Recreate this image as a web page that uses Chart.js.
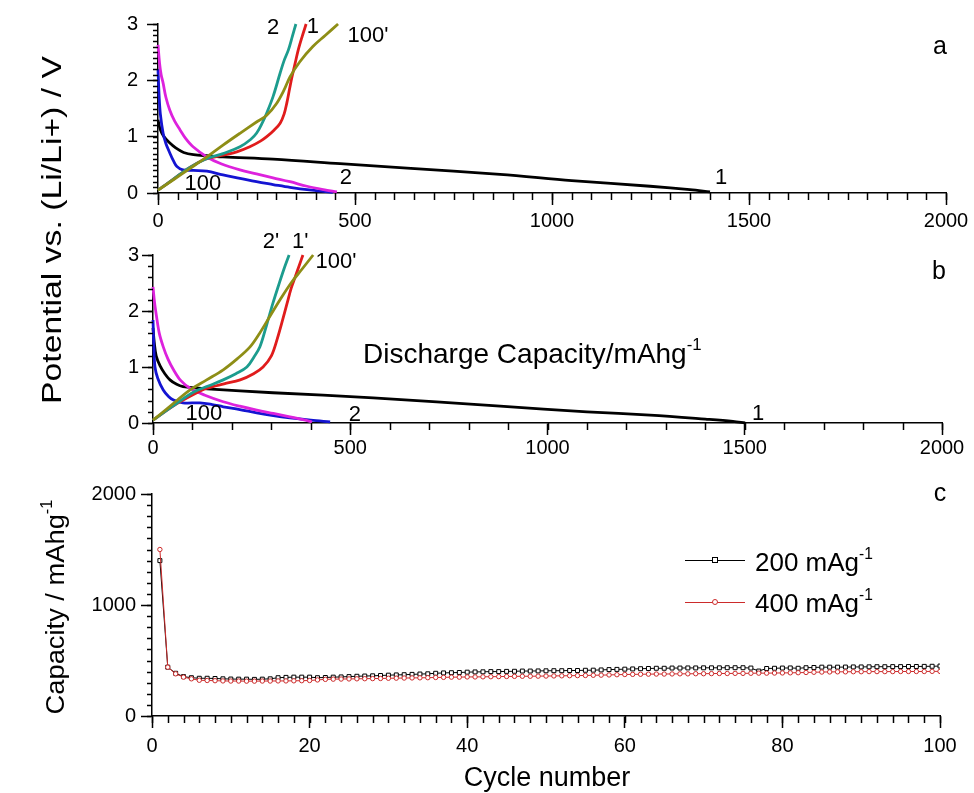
<!DOCTYPE html>
<html>
<head>
<meta charset="utf-8">
<script src="https://cdn.jsdelivr.net/npm/chart.js@4.4.0/dist/chart.umd.min.js"></script>
<style>
  body { margin: 0; background: #fff; }
  #fig { position: relative; width: 974px; height: 793px; overflow: hidden; background: #fff;
         font-family: "Liberation Sans", Arial, sans-serif; color: #000; }
  #fig canvas { position: absolute; left: 0; }
  .txt { position: absolute; white-space: nowrap; line-height: 1; }
  .txt sup { font-size: 60%; vertical-align: 0.75em; line-height: 0; }
  .mid { transform: translateY(-50%); }
  .ctr { transform: translate(-50%, -50%); }
  .legline { position: absolute; height: 0; width: 60px; }
  .legmark { position: absolute; width: 4px; height: 4px; background: #fff; }
</style>
</head>
<body>
<div id="fig">
  <canvas id="chartA" width="974" height="230" style="top:0px"></canvas>
  <canvas id="chartB" width="974" height="240" style="top:230px"></canvas>
  <canvas id="chartC" width="974" height="323" style="top:470px"></canvas>

  <div class="txt" style="left:52px; top:230px; font-size:27px; transform:translate(-50%,-50%) rotate(-90deg) scale(1.25,1);">Potential vs. (Li/Li+) / V</div>
  <div class="txt" style="left:55px; top:607px; font-size:26px; transform:translate(-50%,-50%) rotate(-90deg) scale(1.05,1);">Capacity / mAhg<sup>-1</sup></div>
  <div class="txt ctr" style="left:547px; top:777px; font-size:27px;">Cycle number</div>
  <div class="txt mid" style="left:363px; top:354px; font-size:28px;">Discharge Capacity/mAhg<sup>-1</sup></div>

  <div class="txt ctr" style="left:940px; top:45px; font-size:25px;">a</div>
  <div class="txt ctr" style="left:939px; top:270px; font-size:25px;">b</div>
  <div class="txt ctr" style="left:940px; top:492px; font-size:25px;">c</div>

  <!-- legend of panel c -->
  <div class="legline" style="left:685px; top:560px; border-top:1px solid #000;"></div>
  <div class="legmark" style="left:712px; top:557px; border:1px solid #000;"></div>
  <div class="txt mid" style="left:755px; top:562px; font-size:26px;">200 mAg<sup>-1</sup></div>
  <div class="legline" style="left:685px; top:602px; border-top:1px solid #cc2b2b;"></div>
  <div class="legmark" style="left:712px; top:599px; border:1px solid #cc2b2b; border-radius:50%;"></div>
  <div class="txt mid" style="left:755px; top:603px; font-size:26px;">400 mAg<sup>-1</sup></div>
</div>

<script>
// ---- panel a : 200 mA/g, [capacity mAh/g, potential V] ----
const aDis1   = [[0,1.3],[6,1.12],[15,1.0],[28,0.9],[45,0.8],[65,0.72],[90,0.68],[130,0.66],[165,0.64],[292,0.6],[462,0.52],[632,0.44],[868,0.33],[1050,0.22],[1249,0.12],[1350,0.06],[1401,0.02]];
const aDis2   = [[0,2.63],[4,2.3],[8,2.1],[13,1.95],[20,1.7],[30,1.47],[42,1.28],[56,1.12],[70,0.97],[89,0.82],[124,0.64],[160,0.52],[208,0.41],[250,0.34],[292,0.27],[335,0.2],[378,0.12],[420,0.06],[454,0.02]];
const aDis100 = [[0,2.2],[3,1.7],[6,1.4],[13,1.06],[20,0.88],[30,0.71],[40,0.56],[48,0.47],[63,0.41],[90,0.4],[124,0.39],[165,0.32],[208,0.26],[250,0.2],[292,0.15],[335,0.1],[390,0.05],[444,0.01]];
const aChg1   = [[0,0.05],[40,0.25],[80,0.45],[120,0.6],[165,0.67],[200,0.73],[233,0.82],[260,0.92],[276,1.0],[295,1.12],[310,1.24],[320,1.4],[327,1.6],[334,1.85],[340,2.06],[348,2.3],[356,2.54],[366,2.78],[376,3.0]];
const aChg2   = [[0,0.05],[40,0.25],[80,0.45],[120,0.6],[165,0.7],[208,0.82],[235,0.95],[250,1.06],[265,1.25],[276,1.42],[292,1.71],[310,2.13],[320,2.35],[331,2.54],[341,2.78],[350,3.0]];
const aChg100 = [[0,0.05],[40,0.24],[80,0.43],[124,0.64],[165,0.85],[208,1.06],[250,1.26],[276,1.38],[300,1.58],[320,1.83],[335,2.06],[360,2.33],[393,2.6],[425,2.8],[457,3.0]];

// ---- panel b : 400 mA/g ----
const bDis1   = [[0,1.7],[3,1.45],[8,1.2],[18,1.02],[30,0.88],[43,0.77],[60,0.69],[76,0.65],[137,0.61],[304,0.54],[558,0.45],[880,0.3],[1100,0.2],[1260,0.14],[1400,0.07],[1470,0.03],[1501,0.0]];
const bDis2   = [[0,2.43],[4,2.15],[9,1.9],[16,1.6],[26,1.36],[38,1.14],[52,0.95],[70,0.76],[94,0.62],[130,0.5],[178,0.38],[220,0.3],[263,0.23],[305,0.17],[347,0.11],[380,0.06],[403,0.02]];
const bDis100 = [[0,1.84],[2,1.4],[5,1.0],[12,0.8],[26,0.59],[40,0.47],[52,0.41],[76,0.36],[119,0.36],[150,0.33],[178,0.29],[220,0.24],[263,0.18],[305,0.13],[347,0.09],[400,0.05],[449,0.02]];
const bChg1   = [[0,0.05],[50,0.3],[100,0.5],[137,0.62],[180,0.7],[221,0.77],[255,0.88],[279,1.0],[300,1.2],[314,1.48],[327,1.8],[340,2.14],[350,2.4],[360,2.6],[370,2.8],[380,3.0]];
const bChg2   = [[0,0.05],[50,0.3],[102,0.55],[140,0.66],[178,0.77],[210,0.88],[238,1.0],[256,1.18],[271,1.36],[288,1.75],[304,2.14],[318,2.45],[332,2.75],[345,3.0]];
const bChg100 = [[0,0.05],[40,0.28],[94,0.59],[136,0.77],[178,0.95],[214,1.15],[246,1.36],[270,1.6],[296,1.9],[322,2.2],[350,2.5],[378,2.75],[406,3.0]];

// ---- panel c : discharge capacity vs cycle ----
const cycles = Array.from({ length: 100 }, (_, i) => i + 1);
const cap200 = [1400,440,385,355,345,340,340,338,335,333,332,332,330,332,335,345,348,350,350,350,
  345,347,350,352,355,358,360,362,365,368,370,372,375,378,380,385,388,390,392,395,
  397,398,400,400,402,403,405,405,406,407,408,408,410,410,412,413,415,418,420,422,
  424,426,428,430,430,432,432,433,433,434,434,434,435,435,435,432,405,428,430,432,
  433,430,435,437,440,440,440,441,442,442,443,444,444,445,445,446,446,447,448,450];
const cap400 = [1500,440,380,350,335,322,320,318,316,315,315,314,314,315,315,316,316,317,318,320,
  325,330,332,333,334,335,336,337,338,340,341,342,343,344,345,347,348,350,350,352,
  352,353,354,355,356,357,358,358,359,360,361,362,363,364,365,367,368,370,372,374,
  375,376,377,378,378,379,380,380,381,381,382,383,383,384,384,385,386,386,387,388,
  389,390,392,394,396,397,398,398,399,399,400,400,400,400,401,401,401,401,402,402];

// curve labels (data coordinates)
const labelsA = [
  { text: '2', x: 292, y: 2.93 }, { text: '1', x: 393, y: 2.95 }, { text: "100'", x: 533, y: 2.79 },
  { text: '100', x: 114, y: 0.16 }, { text: '2', x: 477, y: 0.27 }, { text: '1', x: 1429, y: 0.27 }
];
const labelsB = [
  { text: "2'", x: 299, y: 3.23 }, { text: "1'", x: 373, y: 3.23 }, { text: "100'", x: 464, y: 2.88 },
  { text: '100', x: 129, y: 0.16 }, { text: '2', x: 512, y: 0.14 }, { text: '1', x: 1534, y: 0.16 }
];

Chart.defaults.font.family = '"Liberation Sans", Arial, sans-serif';
Chart.defaults.font.size = 20;
Chart.defaults.color = '#000';

// small ticks between the labelled ones
const minorTicks = {
  id: 'minorTicks',
  afterDraw(chart, args, opts) {
    const { ctx, scales: { x, y } } = chart;
    ctx.save();
    ctx.strokeStyle = '#000';
    ctx.lineWidth = 1.5;
    const nx = Math.round((x.max - x.min) / opts.x);
    for (let i = 0; i <= nx; i++) {
      const px = Math.round(x.getPixelForValue(x.min + i * opts.x)) + 0.5;
      ctx.beginPath(); ctx.moveTo(px, x.top); ctx.lineTo(px, x.top + opts.xLen); ctx.stroke();
    }
    const ny = Math.round((y.max - y.min) / opts.y);
    for (let i = 0; i <= ny; i++) {
      const py = Math.round(y.getPixelForValue(y.min + i * opts.y)) + 0.5;
      ctx.beginPath(); ctx.moveTo(y.right, py); ctx.lineTo(y.right - opts.yLen, py); ctx.stroke();
    }
    ctx.restore();
  }
};

const curveLabels = {
  id: 'curveLabels',
  afterDatasetsDraw(chart, args, opts) {
    if (!opts.items) return;
    const { ctx, scales: { x, y } } = chart;
    ctx.save();
    ctx.font = '22px "Liberation Sans", Arial, sans-serif';
    ctx.fillStyle = '#000';
    ctx.textAlign = 'center';
    ctx.textBaseline = 'middle';
    opts.items.forEach(l => ctx.fillText(l.text, x.getPixelForValue(l.x), y.getPixelForValue(l.y)));
    ctx.restore();
  }
};

function curve(pts, color) {
  return {
    data: pts.map(p => ({ x: p[0], y: p[1] })),
    showLine: true, borderColor: color, borderWidth: 2.8,
    pointRadius: 0, tension: 0.35, fill: false, clip: 6
  };
}

const plainNum = v => String(v);

function makeChart(id, datasets, c) {
  return new Chart(document.getElementById(id), {
    type: 'scatter',
    data: { datasets },
    options: {
      responsive: false,
      animation: false,
      events: [],
      layout: { padding: { top: c.padTop, right: c.padRight, left: 0, bottom: 0 } },
      plugins: {
        legend: { display: false },
        tooltip: { enabled: false },
        minorTicks: c.minor,
        curveLabels: { items: c.labels }
      },
      scales: {
        x: {
          type: 'linear', min: c.xMin, max: c.xMax,
          ticks: { stepSize: c.xStep, padding: c.xPad, maxRotation: 0, autoSkip: false, callback: plainNum },
          grid: { drawOnChartArea: false, tickLength: 12, tickWidth: 1.5, tickColor: '#000' },
          border: { color: '#000', width: 1.5 },
          afterFit: s => { s.height = c.xHeight; }
        },
        y: {
          type: 'linear', min: c.yMin, max: c.yMax,
          ticks: { stepSize: c.yStep, padding: c.yPad, callback: plainNum },
          grid: { drawOnChartArea: false, tickLength: 11, tickWidth: 1.5, tickColor: '#000' },
          border: { color: '#000', width: 1.5 },
          afterFit: s => { s.width = c.yWidth; }
        }
      }
    },
    plugins: [minorTicks, curveLabels]
  });
}

const C_BLACK = '#000000', C_MAG = '#dd22dd', C_BLUE = '#1414d2',
      C_TEAL = '#1c9c8e', C_RED = '#e01c1c', C_OLIVE = '#8e8e16';

makeChart('chartA', [
  curve(aChg100, C_OLIVE), curve(aChg2, C_TEAL), curve(aChg1, C_RED),
  curve(aDis2, C_MAG), curve(aDis100, C_BLUE), curve(aDis1, C_BLACK)
], {
  padTop: 24, padRight: 28, yWidth: 158, xHeight: 37,
  xMin: 0, xMax: 2000, xStep: 500, xPad: 4,
  yMin: 0, yMax: 3, yStep: 1, yPad: 9,
  minor: { x: 50, y: 0.1, xLen: 7, yLen: 5 },
  labels: labelsA
});

makeChart('chartB', [
  curve(bChg100, C_OLIVE), curve(bChg2, C_TEAL), curve(bChg1, C_RED),
  curve(bDis2, C_MAG), curve(bDis100, C_BLUE), curve(bDis1, C_BLACK)
], {
  padTop: 25, padRight: 32, yWidth: 153, xHeight: 47,
  xMin: 0, xMax: 2000, xStep: 500, xPad: 1,
  yMin: 0, yMax: 3, yStep: 1, yPad: 3,
  minor: { x: 100, y: 0.2, xLen: 7, yLen: 5 },
  labels: labelsB
});

makeChart('chartC', [
  {
    data: cycles.map((n, i) => ({ x: n, y: cap400[i] })),
    showLine: true, borderColor: '#cc2b2b', borderWidth: 1,
    pointStyle: 'circle', pointRadius: 2.2, pointBorderWidth: 1,
    pointBorderColor: '#cc2b2b', pointBackgroundColor: '#ffffff'
  },
  {
    data: cycles.map((n, i) => ({ x: n, y: cap200[i] })),
    showLine: true, borderColor: '#000000', borderWidth: 1,
    pointStyle: 'rect', pointRadius: 2.8, pointBorderWidth: 1,
    pointBorderColor: '#000000', pointBackgroundColor: '#ffffff'
  }
], {
  padTop: 24, padRight: 34, yWidth: 152, xHeight: 77,
  xMin: 0, xMax: 100, xStep: 20, xPad: 6,
  yMin: 0, yMax: 2000, yStep: 1000, yPad: 5,
  minor: { x: 2, y: 100, xLen: 7, yLen: 5 },
  labels: []
});
</script>
</body>
</html>
